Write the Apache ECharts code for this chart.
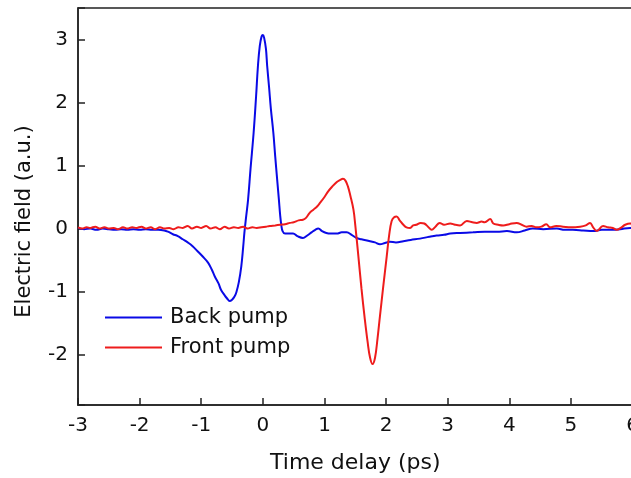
<!DOCTYPE html>
<html>
<head>
<meta charset="utf-8">
<script src="https://cdn.jsdelivr.net/npm/echarts@6/dist/echarts.min.js"></script>
<style>
html,body{margin:0;padding:0;background:#fff;}
#chart{width:631px;height:478px;}
</style>
</head>
<body>
<div id="chart"></div>
<script>
// Time axis (ps) and field values (a.u.)
const backT = [-3.0,-2.9,-2.8,-2.7,-2.6,-2.5,-2.4,-2.3,-2.2,-2.1,-2.0,-1.9,-1.8,-1.7,-1.6,-1.54,-1.46,-1.38,-1.3,-1.22,-1.14,-1.06,-0.98,-0.89,-0.83,-0.78,-0.72,-0.68,-0.62,-0.58,-0.54,-0.5,-0.46,-0.43,-0.39,-0.35,-0.32,-0.3,-0.27,-0.24,-0.2,-0.15,-0.11,-0.08,-0.05,-0.02,0.0,0.02,0.05,0.07,0.1,0.13,0.17,0.2,0.23,0.26,0.28,0.3,0.32,0.36,0.42,0.49,0.56,0.65,0.72,0.79,0.85,0.9,0.96,1.03,1.1,1.2,1.28,1.36,1.44,1.52,1.6,1.74,1.82,1.9,1.98,2.06,2.16,2.28,2.4,2.55,2.7,2.82,2.94,3.04,3.2,3.41,3.6,3.8,3.96,4.12,4.25,4.38,4.55,4.77,4.9,5.03,5.2,5.36,5.5,5.68,5.8,5.96,6.0];
const backV = [0.01,-0.01,0.0,-0.02,0.0,-0.01,-0.02,-0.01,-0.02,-0.01,-0.02,-0.01,-0.02,-0.02,-0.03,-0.05,-0.09,-0.12,-0.17,-0.22,-0.28,-0.36,-0.44,-0.54,-0.65,-0.76,-0.87,-0.97,-1.06,-1.11,-1.15,-1.13,-1.08,-1.01,-0.85,-0.6,-0.3,-0.07,0.2,0.46,0.95,1.52,2.1,2.58,2.9,3.05,3.07,3.03,2.85,2.58,2.25,1.9,1.52,1.15,0.8,0.46,0.22,0.05,-0.04,-0.08,-0.08,-0.08,-0.12,-0.15,-0.11,-0.06,-0.02,0.0,-0.04,-0.07,-0.08,-0.08,-0.06,-0.06,-0.1,-0.15,-0.17,-0.2,-0.22,-0.25,-0.23,-0.21,-0.22,-0.2,-0.18,-0.16,-0.13,-0.11,-0.1,-0.08,-0.07,-0.06,-0.05,-0.05,-0.04,-0.06,-0.03,0.0,-0.01,0.0,-0.02,-0.02,-0.03,-0.04,-0.02,-0.02,-0.01,0.01,0.01];

const frontT = [-3.0,-2.93,-2.86,-2.8,-2.72,-2.65,-2.57,-2.5,-2.42,-2.35,-2.27,-2.2,-2.12,-2.05,-1.97,-1.9,-1.82,-1.75,-1.67,-1.6,-1.52,-1.45,-1.37,-1.3,-1.22,-1.15,-1.07,-1.0,-0.92,-0.85,-0.77,-0.7,-0.62,-0.55,-0.47,-0.4,-0.32,-0.25,-0.17,-0.1,-0.02,0.05,0.11,0.2,0.28,0.36,0.44,0.5,0.58,0.65,0.7,0.76,0.82,0.88,0.93,1.0,1.06,1.12,1.2,1.25,1.3,1.34,1.38,1.42,1.47,1.5,1.55,1.6,1.65,1.7,1.74,1.78,1.82,1.86,1.9,1.95,2.01,2.05,2.09,2.13,2.17,2.22,2.28,2.33,2.39,2.44,2.49,2.56,2.62,2.68,2.74,2.8,2.87,2.94,3.04,3.12,3.2,3.31,3.4,3.47,3.55,3.6,3.69,3.74,3.82,3.9,4.0,4.12,4.2,4.28,4.36,4.44,4.52,4.6,4.66,4.76,4.87,5.0,5.15,5.24,5.31,5.36,5.42,5.52,5.6,5.68,5.74,5.82,5.88,5.96,6.0];
const frontV = [0.02,0.0,0.02,0.01,0.03,0.0,0.02,0.0,0.01,-0.01,0.02,0.0,0.02,0.01,0.03,0.0,0.02,-0.01,0.02,0.0,0.01,-0.01,0.02,0.01,0.04,0.0,0.03,0.01,0.04,0.0,0.02,-0.01,0.03,0.0,0.02,0.01,0.03,0.0,0.02,0.01,0.02,0.03,0.04,0.05,0.06,0.07,0.09,0.1,0.13,0.14,0.17,0.25,0.3,0.35,0.41,0.5,0.59,0.66,0.74,0.77,0.79,0.76,0.67,0.52,0.3,0.05,-0.44,-0.95,-1.4,-1.8,-2.05,-2.15,-2.05,-1.75,-1.39,-0.95,-0.44,-0.1,0.12,0.18,0.19,0.13,0.06,0.02,0.01,0.05,0.06,0.09,0.08,0.03,-0.02,0.03,0.09,0.06,0.08,0.06,0.05,0.12,0.1,0.09,0.11,0.1,0.15,0.08,0.06,0.05,0.07,0.09,0.06,0.03,0.04,0.02,0.03,0.07,0.02,0.04,0.03,0.02,0.03,0.05,0.09,0.02,-0.04,0.04,0.02,0.01,-0.02,0.02,0.06,0.08,0.07];

const seriesNames = ['Back pump', 'Front pump'];
const xTickMin = -3, xTickMax = 6;
const yMin = -2.8, yMax = 3.5;

function pairs(t, v) { return t.map((x, i) => [x, v[i]]); }

const FONT = 'DejaVu Sans';
const chart = echarts.init(document.getElementById('chart'), null, {renderer: 'canvas'});
chart.setOption({
  animation: false,
  backgroundColor: '#ffffff',
  grid: {left: 78, top: 8, right: -1.6, bottom: 73, show: true, borderColor: '#222', borderWidth: 1.5,
         containLabel: false, outerBoundsMode: 'none'},
  legend: {
    data: seriesNames,
    orient: 'vertical',
    left: 105, top: 307, padding: 0,
    itemWidth: 57, itemHeight: 2, itemGap: 9,
    icon: 'rect',
    textStyle: {fontFamily: FONT, fontSize: 21, lineHeight: 21, color: '#111', padding: [0, 0, 0, 3]}
  },
  xAxis: {
    type: 'value', min: xTickMin, max: xTickMax, interval: 1,
    name: 'Time delay (ps)', nameLocation: 'middle', nameGap: 47,
    nameTextStyle: {fontFamily: FONT, fontSize: 22, color: '#111'},
    axisLine: {show: true, onZero: false, lineStyle: {color: '#222', width: 1.5}},
    axisTick: {show: true, inside: true, length: 7, lineStyle: {color: '#222', width: 1.5}},
    axisLabel: {fontFamily: FONT, fontSize: 20, color: '#111', margin: 11},
    splitLine: {show: false}
  },
  yAxis: {
    type: 'value', min: yMin, max: yMax, splitNumber: 6,
    name: 'Electric field (a.u.)', nameLocation: 'middle', nameGap: 43, nameRotate: 90,
    nameTextStyle: {fontFamily: FONT, fontSize: 21, color: '#111', padding: [0, 30, 0, 0]},
    axisLine: {show: true, onZero: false, lineStyle: {color: '#222', width: 1.5}},
    axisTick: {show: true, inside: true, length: 7, lineStyle: {color: '#222', width: 1.5}},
    axisLabel: {fontFamily: FONT, fontSize: 20, color: '#111', margin: 10,
      formatter: v => (Math.abs(v - Math.round(v)) < 1e-9 ? String(Math.round(v)) : '')},
    splitLine: {show: false}
  },
  series: [
    {name: seriesNames[0], type: 'line', data: pairs(backT, backV), showSymbol: false, smooth: 0.4,
     lineStyle: {color: '#0a0ae6', width: 2}, itemStyle: {color: '#0a0ae6'}},
    {name: seriesNames[1], type: 'line', data: pairs(frontT, frontV), showSymbol: false, smooth: 0.4,
     lineStyle: {color: '#ee1c1c', width: 2}, itemStyle: {color: '#ee1c1c'}}
  ]
});
</script>
</body>
</html>
